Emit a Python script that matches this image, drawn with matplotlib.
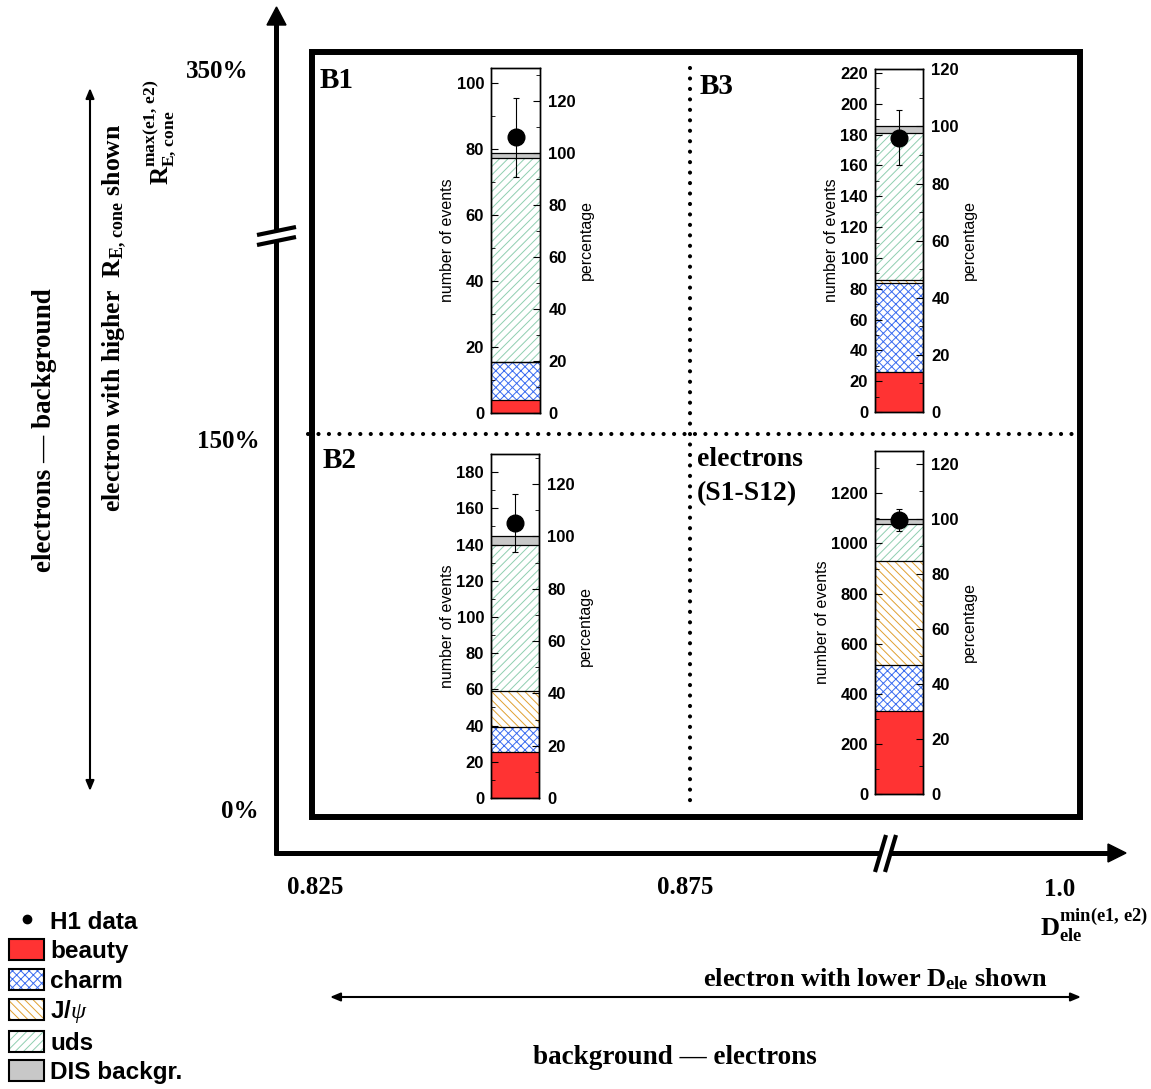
import matplotlib.pyplot as plt
import numpy as np
from matplotlib.patches import Rectangle, Polygon, Patch
from matplotlib.lines import Line2D
from matplotlib.legend_handler import HandlerTuple

W, H = 1151, 1089

plt.rcParams['font.family'] = ['Liberation Sans', 'DejaVu Sans']
plt.rcParams['mathtext.fontset'] = 'custom'
plt.rcParams['mathtext.rm'] = 'Liberation Serif:bold'
plt.rcParams['mathtext.bf'] = 'Liberation Serif:bold'
plt.rcParams['mathtext.it'] = 'Liberation Serif:italic'
plt.rcParams['hatch.linewidth'] = 0.7

# event counts per region (stacked MC contributions) and H1 data
regions = ['B1', 'B3', 'B2', 'S1-S12']
beauty = [3.8, 26.0, 25.4, 332]
charm = [11.6, 58.0, 13.6, 181]
jpsi = [0.1, 1.6, 19.9, 418]
uds = [61.8, 95.4, 81.0, 147]
dis = [1.5, 4.3, 4.6, 20]
h1_data = [83.5, 178, 152, 1094]
h1_err = [12, 18, 16, 45]
y_max = [104.5, 222.6, 190, 1369]
y_step = [20, 20, 20, 200]

comp_labels = ['beauty', 'charm', r'J/$\psi$', 'uds', 'DIS backgr.']
comp_face = ['#ff3333', 'white', 'white', 'white', '#c8c8c8']
comp_hatchcol = ['#ff3333', '#3a6cf0', '#e0a030', '#8fcfb0', '#c8c8c8']
comp_hatch = [None, 'xxxx', '\\\\\\\\', '////', None]

fig = plt.figure(figsize=(W / 100, H / 100), dpi=100)

# overlay axes in pixel coordinates for the schematic
ax0 = fig.add_axes([0, 0, 1, 1])
ax0.set_xlim(0, W)
ax0.set_ylim(H, 0)
ax0.axis('off')


def px_axes(x0, y0, x1, y1):
    return fig.add_axes([x0 / W, 1 - y1 / H, (x1 - x0) / W, (y1 - y0) / H])


rects = [(491, 68, 540, 413), (875, 69, 923, 412),
         (491, 454, 539, 798), (875, 451, 923, 794)]

for i, r in enumerate(rects):
    ax = px_axes(*r)
    bottom = 0
    for k, vals in enumerate([beauty, charm, jpsi, uds, dis]):
        ax.bar(0, vals[i], bottom=bottom, width=1, color=comp_face[k],
               edgecolor=comp_hatchcol[k], hatch=comp_hatch[k], linewidth=0)
        bottom += vals[i]
        ax.axhline(bottom, color='k', lw=0.9)
    total = bottom
    ax.errorbar(0, h1_data[i], yerr=h1_err[i], fmt='o', ms=12, color='k',
                elinewidth=0.8, capsize=2.5, capthick=0.8, zorder=5)
    ax.set_xlim(-0.5, 0.5)
    ax.set_ylim(0, y_max[i])
    ax.set_xticks([])
    ticks = np.arange(0, y_max[i], y_step[i])
    ax.set_yticks(ticks)
    ax.set_yticklabels([f'{t:g}' for t in ticks], fontweight='bold', fontsize=12)
    ax.set_yticks(np.arange(0, y_max[i], y_step[i] / 2), minor=True)
    ax.tick_params(axis='y', which='both', direction='in', right=False, pad=5)
    ax.tick_params(axis='y', which='major', length=5)
    ax.tick_params(axis='y', which='minor', length=3)
    ax.set_ylabel('number of events', fontsize=11.5, labelpad=1)

    ax2 = ax.twinx()
    pmax = y_max[i] / total * 100
    ax2.set_ylim(0, pmax)
    pt = np.arange(0, pmax, 20)
    ax2.set_yticks(pt)
    ax2.set_yticklabels([f'{t:g}' for t in pt], fontweight='bold', fontsize=12)
    ax2.set_yticks(np.arange(0, pmax, 10), minor=True)
    ax2.tick_params(axis='y', which='both', direction='in', pad=6)
    ax2.tick_params(axis='y', which='major', length=5)
    ax2.tick_params(axis='y', which='minor', length=3)
    ax2.set_ylabel('percentage', fontsize=11.5, labelpad=2)
    for a in (ax, ax2):
        for s in a.spines.values():
            s.set_linewidth(1.0)

# outer frame
ax0.add_patch(Rectangle((312.5, 51.5), 767.5, 765.5, fill=False, lw=4.3,
                        joinstyle='miter'))

# schematic axes with arrows
ax0.plot([276.5, 276.5], [855, 24], color='k', lw=3.6, solid_capstyle='butt')
ax0.add_patch(Polygon([[267, 25], [286, 25], [276.5, 7]], closed=True, color='k'))
ax0.plot([274, 1109], [853, 853], color='k', lw=3.6, solid_capstyle='butt')
ax0.add_patch(Polygon([[1108, 844], [1108, 862], [1126, 853]], closed=True, color='k'))

# axis breaks
ax0.add_patch(Polygon([[257, 235], [296, 227], [296, 237], [257, 245]], closed=True,
                      fc='white', ec='none', zorder=3))
ax0.plot([257, 296], [235, 227], color='k', lw=3, zorder=4, solid_capstyle='butt')
ax0.plot([257, 296], [245, 237], color='k', lw=3, zorder=4, solid_capstyle='butt')
ax0.add_patch(Polygon([[875, 872], [886, 835], [896, 835], [885, 872]], closed=True,
                      fc='white', ec='none', zorder=3))
ax0.plot([875, 886], [872, 835], color='k', lw=3, zorder=4, solid_capstyle='butt')
ax0.plot([885, 896], [872, 835], color='k', lw=3, zorder=4, solid_capstyle='butt')

# dotted region dividers
dot = dict(color='k', lw=3, ls=(0, (0.01, 2.5)), dash_capstyle='round')
ax0.plot([308, 1075], [433.5, 433.5], **dot)
ax0.plot([690, 690], [68, 808], **dot)

serif = dict(family=['Liberation Serif', 'DejaVu Serif'], fontweight='bold')

# region labels
ax0.text(320, 80, 'B1', fontsize=21, va='center', ha='left', **serif)
ax0.text(700, 87, 'B3', fontsize=21, va='center', ha='left', **serif)
ax0.text(323, 461, 'B2', fontsize=21, va='center', ha='left', **serif)
ax0.text(697, 460, 'electrons', fontsize=20, va='center', ha='left', **serif)
ax0.text(697, 494, '(S1-S12)', fontsize=20, va='center', ha='left', **serif)

# schematic tick labels
ax0.text(249, 72, '350%', fontsize=18, va='center', ha='right', **serif)
ax0.text(260, 441, '150%', fontsize=18, va='center', ha='right', **serif)
ax0.text(259, 812, '0%', fontsize=18, va='center', ha='right', **serif)
ax0.text(315, 888, '0.825', fontsize=18, va='center', ha='center', **serif)
ax0.text(685, 888, '0.875', fontsize=18, va='center', ha='center', **serif)
ax0.text(1060, 889, '1.0', fontsize=18, va='center', ha='center', **serif)
ax0.text(1040, 925, r'D$_{\mathrm{ele}}^{\mathrm{min(e1,\,e2)}}$', fontsize=19,
         va='center', ha='left', **serif)
ax0.text(160, 132, r'R$_{\mathrm{E,\,cone}}^{\mathrm{max(e1,\,e2)}}$', fontsize=18,
         va='center', ha='center', rotation=90, **serif)

# descriptive labels and arrows
ax0.text(875, 979, r'electron with lower D$_{\mathrm{ele}}$ shown', fontsize=19,
         va='center', ha='center', **serif)
ax0.text(675, 1057, 'background — electrons', fontsize=19.5,
         va='center', ha='center', **serif)
ax0.text(45, 430, 'electrons — background', fontsize=19.5,
         va='center', ha='center', rotation=90, **serif)
ax0.text(115, 318, r'electron with higher  R$_{\mathrm{E,\,cone}}$ shown', fontsize=18.5,
         va='center', ha='center', rotation=90, **serif)
arr = dict(arrowstyle='<|-|>,head_length=0.6,head_width=0.25', color='k', lw=1.5,
           shrinkA=0, shrinkB=0)
ax0.annotate('', xy=(330, 997), xytext=(1081, 997), arrowprops=arr)
ax0.annotate('', xy=(90, 88), xytext=(90, 791), arrowprops=arr)

# legend
handles = [Line2D([], [], marker='o', ls='none', color='k', ms=6)]
for k in range(5):
    handles.append((Patch(facecolor=comp_face[k], edgecolor=comp_hatchcol[k],
                          hatch=comp_hatch[k], lw=0),
                    Patch(facecolor='none', edgecolor='k', lw=1.5)))
ax0.legend(handles, ['H1 data'] + comp_labels,
           handler_map={tuple: HandlerTuple(ndivide=1, pad=0)},
           loc='upper left', bbox_to_anchor=(9 / W, 1 - 910 / H), frameon=False,
           prop=dict(family='Liberation Sans', weight='bold', size=17.5),
           handlelength=1.45, handleheight=0.95, handletextpad=0.25,
           labelspacing=0.23, borderpad=0, borderaxespad=0)

fig.savefig('out.png', dpi=100)
